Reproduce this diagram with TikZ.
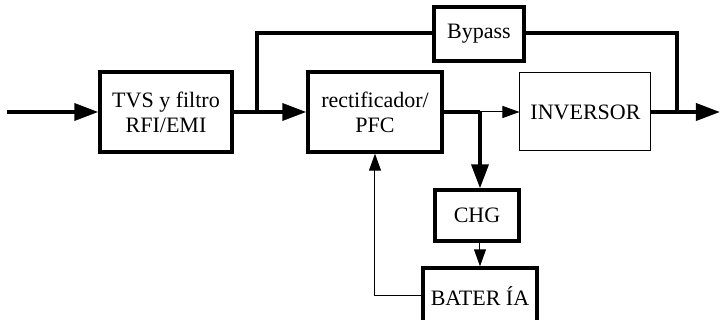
\documentclass[tikz,border=0pt]{standalone}
\usepackage{fontspec}
\setmainfont{LiberationSerif}[Extension=.ttf,UprightFont=*-Regular,BoldFont=*-Bold]
\usetikzlibrary{arrows.meta}
\begin{document}
\begin{tikzpicture}[x=0.5pt,y=-0.5pt,
  font=\fontsize{11pt}{12.5pt}\selectfont,
  blk/.style={draw,line width=1.7pt,inner sep=0pt,align=center,fill=white},
  thinblk/.style={draw,line width=0.5pt,inner sep=0pt,align=center,fill=white},
  bus/.style={line width=1.8pt},
  wire/.style={line width=0.5pt},
  bigtip/.style={-{Triangle[length=12pt,width=8.5pt]}},
  smalltip/.style={-{Triangle[length=8.5pt,width=6pt]}}
]
\useasboundingbox (0,0) rectangle (720,320);
\clip (0,0) rectangle (720,320);

% blocks
\node[blk,minimum width=66pt,minimum height=40pt] (tvs) at (166,112) {TVS y filtro\\RFI/EMI};
\node[blk,minimum width=67pt,minimum height=40pt] (rect) at (375,112) {rectificador/\\PFC};
\node[blk,minimum width=45pt,minimum height=27pt] (byp) at (479,34) {Bypass};
\node[thinblk,minimum width=65.5pt,minimum height=39pt] (inv) at (585.5,112) {INVERSOR};
\node[blk,minimum width=42pt,minimum height=25.5pt] (chg) at (477,215.5) {CHG};
\node[blk,minimum width=57pt,minimum height=28pt,text depth=0pt] (bat) at (480,296) {BATER ÍA};

% junctions and free ends
\coordinate (in) at (7,112);
\coordinate (split) at (257,112);
\coordinate (byptop) at (257,33);
\coordinate (tap) at (480,112);
\coordinate (merge) at (677,112);
\coordinate (bypcorner) at (677,33);
\coordinate (out) at (720,112);

% main power path
\draw[bus,bigtip] (in) -- (tvs.west);
\draw[bus] (tvs.east) -- (split);
\draw[bus,bigtip] (split) -- (rect.west);
\draw[bus] (split) -- (byptop) -- (byp.west |- byptop);
\draw[bus] (byp.east |- bypcorner) -- (bypcorner) -- (merge);
\draw[bus] (rect.east) -- (tap);
\draw[wire,smalltip] (tap) -- (inv.west);
\draw[bus,bigtip] (inv.east) -- (out);

% charger and battery branch
\draw[bus,bigtip] (tap) -- (tap |- chg.north);
\draw[wire,smalltip] (tap |- chg.south) -- (tap |- bat.north);
\draw[wire,smalltip] (bat.west) -| (rect.south);
\end{tikzpicture}
\end{document}
